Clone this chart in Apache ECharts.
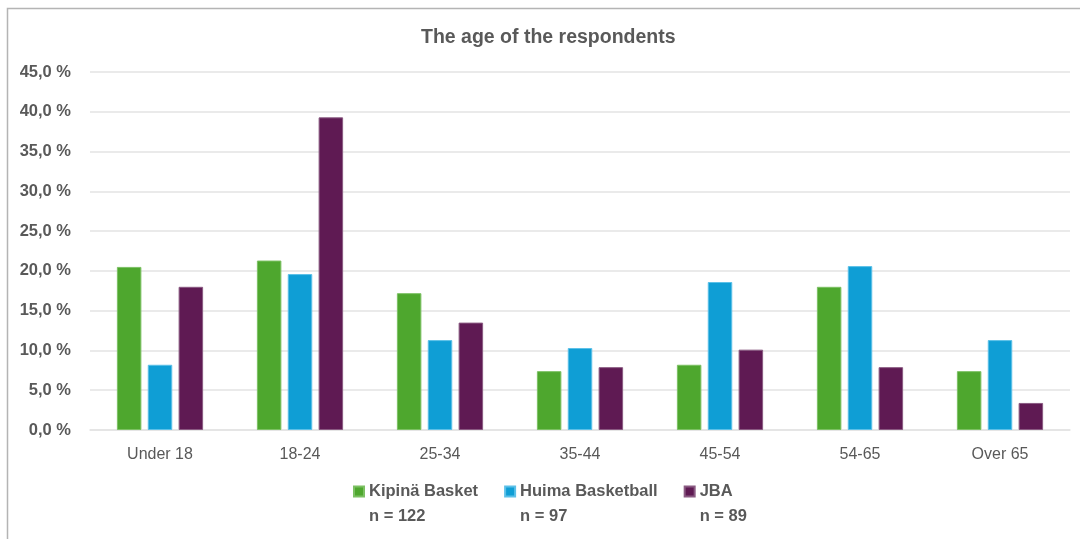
<!DOCTYPE html>
<html>
<head>
<meta charset="utf-8">
<title>The age of the respondents</title>
<script src="https://cdn.jsdelivr.net/npm/echarts@6/dist/echarts.min.js"></script>
<style>
  html, body { margin: 0; padding: 0; background: #ffffff; }
  #chart { width: 1080px; height: 539px; }
</style>
</head>
<body>
<div id="chart"></div>
<script>
// Age groups of the survey respondents
const categories = ['Under 18', '18-24', '25-34', '35-44', '45-54', '54-65', 'Over 65'];

// Share of respondents per age group (%), one array per club
const kipinaBasket = [20.5, 21.3, 17.2, 7.4, 8.2, 18.0, 7.4];
const huimaBasketball = [8.2, 19.6, 11.3, 10.3, 18.6, 20.6, 11.3];
const jba = [18.0, 39.3, 13.5, 7.9, 10.1, 7.9, 3.4];

// Series names and sample sizes shown in the legend
const seriesNames = ['Kipinä Basket', 'Huima Basketball', 'JBA'];
const sampleSizes = ['n = 122', 'n = 97', 'n = 89'];

const colors = ['#4EA72E', '#0F9ED5', '#5F1A53'];
const edgeColors = ['#7cc063', '#5cc0e8', '#8a5a82'];
const textGray = '#595959';
const font = '"Liberation Sans", Arial, sans-serif';

const chart = echarts.init(document.getElementById('chart'), null, { renderer: 'canvas' });

const seriesData = [kipinaBasket, huimaBasketball, jba];

chart.setOption({
  animation: false,
  backgroundColor: '#ffffff',
  title: {
    text: 'The age of the respondents',
    left: 416,
    top: 23,
    textStyle: {
      fontFamily: font,
      fontWeight: 'bold',
      fontSize: 19.5,
      color: textGray
    }
  },
  graphic: [{
    type: 'rect',
    silent: true,
    z: -1,
    shape: { x: 7.5, y: 8.5, width: 1200, height: 700 },
    style: { fill: 'none', stroke: '#b4b4b4', lineWidth: 1.5 }
  }],
  legend: {
    data: seriesNames,
    left: 353,
    top: 454,
    padding: 0,
    itemGap: 26,
    itemWidth: 10,
    itemHeight: 10,
    icon: 'rect',
    formatter: function (name) {
      const i = seriesNames.indexOf(name);
      return '\n' + name + '\n' + sampleSizes[i];
    },
    textStyle: {
      fontFamily: font,
      fontWeight: 'bold',
      fontSize: 16.5,
      lineHeight: 25,
      color: textGray
    }
  },
  grid: {
    left: 90,
    right: 10,
    top: 72,
    bottom: 109,
    containLabel: false
  },
  xAxis: {
    type: 'category',
    data: categories,
    axisLine: { show: true, lineStyle: { color: '#e3e3e3', width: 1.5 } },
    axisTick: { show: false },
    axisLabel: {
      color: textGray,
      fontFamily: font,
      fontSize: 16,
      margin: 17
    }
  },
  yAxis: {
    type: 'value',
    min: 0,
    max: 45,
    interval: 5,
    axisLine: { show: false },
    axisTick: { show: false },
    splitLine: { lineStyle: { color: '#e3e3e3', width: 1.5 } },
    axisLabel: {
      color: textGray,
      fontFamily: font,
      fontWeight: 'bold',
      fontSize: 16.5,
      margin: 19,
      formatter: function (v) {
        return v.toFixed(1).replace('.', ',') + ' %';
      }
    }
  },
  series: seriesNames.map(function (name, i) {
    return {
      name: name,
      type: 'bar',
      data: seriesData[i],
      barWidth: 24.5,
      barGap: '26%',
      itemStyle: {
        color: colors[i],
        borderColor: edgeColors[i],
        borderWidth: 1
      }
    };
  })
});
</script>
</body>
</html>
